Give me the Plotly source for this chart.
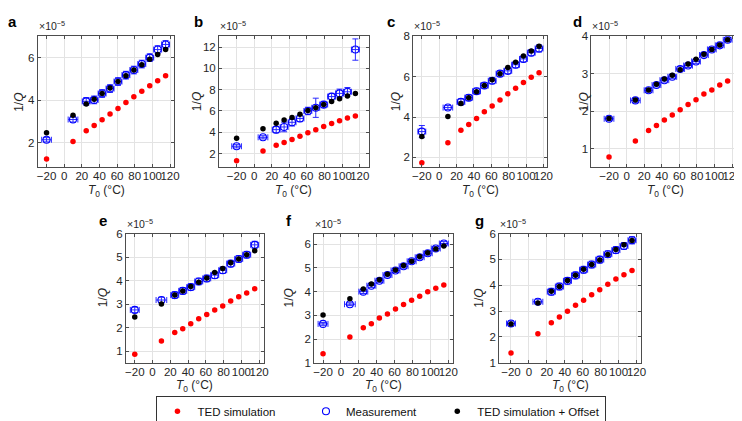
import plotly.graph_objects as go

W, H = 742, 421

# Temperatures (°C)
T = [-20, 10, 25, 34, 43, 52, 61, 70, 79, 88, 97, 106, 115]

# ---------------- data (1/Q in units of 1e-5) ----------------
a_ted = [1.25, 2.07, 2.57, 2.82, 3.09, 3.36, 3.62, 3.90, 4.17, 4.43, 4.68, 4.92, 5.15]
a_meas = [2.15, 3.10, 3.95, 4.02, 4.32, 4.55, 4.88, 5.18, 5.42, 5.70, 6.00, 6.38, 6.62]
a_off = [2.48, 3.30, 3.83, 4.05, 4.32, 4.58, 4.88, 5.15, 5.42, 5.67, 5.93, 6.15, 6.38]
a_ex = [5.5, 5.5, 4.5, 4.5, 4.5, 4.5, 4.5, 4.5, 4.5, 4.5, 4.5, 4.5, 4.5]
a_ey = [0.1, 0.12, 0.18, 0.18, 0.18, 0.18, 0.18, 0.18, 0.18, 0.18, 0.18, 0.18, 0.18]

b_ted = [1.34, 2.24, 2.78, 3.05, 3.32, 3.62, 3.95, 4.25, 4.55, 4.82, 5.09, 5.33, 5.54]
b_meas = [2.69, 3.53, 4.25, 4.50, 4.94, 5.30, 6.00, 6.30, 6.60, 7.35, 7.65, 7.80, 11.76]
b_off = [3.44, 4.34, 4.85, 5.15, 5.40, 5.70, 6.05, 6.30, 6.60, 6.90, 7.14, 7.40, 7.64]
b_ex = [5.5, 5.5, 4.5, 4.5, 4.5, 4.5, 4.5, 4.5, 4.5, 4.5, 4.5, 4.5, 4.5]
b_ey = [0.15, 0.15, 0.3, 0.45, 0.35, 0.3, 0.35, 0.9, 0.3, 0.3, 0.4, 0.4, 1.0]

c_ted = [1.74, 2.73, 3.35, 3.63, 3.93, 4.26, 4.55, 4.85, 5.15, 5.43, 5.71, 5.97, 6.20]
c_meas = [3.28, 4.47, 4.75, 4.96, 5.28, 5.56, 5.80, 6.15, 6.29, 6.59, 6.88, 7.19, 7.40]
c_off = [3.04, 4.03, 4.67, 4.96, 5.25, 5.56, 5.85, 6.15, 6.46, 6.72, 7.02, 7.27, 7.51]
c_ex = [4.5, 5.5, 4.5, 4.5, 4.5, 4.5, 4.5, 4.5, 4.5, 4.5, 4.5, 4.5, 4.5]
c_ey = [0.3, 0.1, 0.15, 0.15, 0.15, 0.15, 0.15, 0.15, 0.15, 0.15, 0.15, 0.15, 0.18]

d_ted = [0.78, 1.21, 1.49, 1.62, 1.77, 1.90, 2.04, 2.18, 2.31, 2.46, 2.57, 2.70, 2.81]
d_meas = [1.80, 2.29, 2.56, 2.70, 2.83, 2.92, 3.13, 3.22, 3.33, 3.50, 3.65, 3.76, 3.91]
d_off = [1.81, 2.30, 2.57, 2.72, 2.86, 2.96, 3.11, 3.26, 3.39, 3.52, 3.65, 3.77, 3.91]
d_ex = [5.5, 5.5, 5.0, 5.0, 5.0, 5.0, 5.0, 5.0, 5.0, 5.0, 5.0, 5.0, 5.0]
d_ey = [0.05, 0.05, 0.05, 0.05, 0.05, 0.05, 0.06, 0.05, 0.05, 0.05, 0.05, 0.05, 0.05]

e_ted = [0.86, 1.43, 1.79, 1.95, 2.16, 2.37, 2.55, 2.75, 2.92, 3.13, 3.31, 3.47, 3.65]
e_meas = [2.75, 3.17, 3.38, 3.56, 3.72, 3.96, 4.09, 4.23, 4.44, 4.72, 4.92, 5.10, 5.52]
e_off = [2.45, 3.00, 3.38, 3.56, 3.75, 3.93, 4.11, 4.34, 4.51, 4.76, 4.92, 5.10, 5.27]
e_ex = [5.0, 6.0, 4.5, 4.5, 4.5, 4.5, 4.5, 4.5, 4.5, 4.5, 4.5, 4.5, 4.5]
e_ey = [0.12, 0.12, 0.14, 0.14, 0.14, 0.14, 0.14, 0.14, 0.14, 0.14, 0.14, 0.14, 0.15]

f_ted = [1.38, 2.09, 2.48, 2.65, 2.89, 3.06, 3.27, 3.46, 3.64, 3.81, 4.00, 4.14, 4.28]
f_meas = [2.64, 3.47, 4.00, 4.25, 4.46, 4.70, 4.89, 5.07, 5.28, 5.45, 5.62, 5.82, 6.03]
f_off = [3.02, 3.70, 4.11, 4.32, 4.50, 4.73, 4.91, 5.10, 5.28, 5.48, 5.64, 5.80, 5.93]
f_ex = [5.5, 6.0, 5.0, 5.0, 5.0, 5.0, 5.0, 5.0, 5.0, 5.0, 5.0, 5.0, 5.0]
f_ey = [0.06, 0.06, 0.08, 0.08, 0.08, 0.08, 0.08, 0.08, 0.08, 0.08, 0.08, 0.08, 0.08]

g_ted = [1.38, 2.12, 2.55, 2.77, 2.99, 3.23, 3.42, 3.63, 3.83, 4.04, 4.24, 4.41, 4.57]
g_meas = [2.52, 3.36, 3.75, 3.95, 4.17, 4.38, 4.60, 4.80, 4.99, 5.20, 5.36, 5.52, 5.74]
g_off = [2.50, 3.31, 3.77, 3.95, 4.18, 4.39, 4.62, 4.80, 4.98, 5.19, 5.38, 5.57, 5.73]
g_ex = [5.0, 5.5, 4.5, 4.5, 4.5, 4.5, 4.5, 4.5, 4.5, 4.5, 4.5, 4.5, 4.5]
g_ey = [0.1, 0.1, 0.13, 0.13, 0.13, 0.13, 0.13, 0.13, 0.13, 0.13, 0.13, 0.13, 0.14]

panel_names = ["a", "b", "c", "d", "e", "f", "g"]
series_names = ["TED simulation", "Measurement", "TED simulation + Offset"]
x_ticks = [-20, 0, 20, 40, 60, 80, 100, 120]
y_ticks = {
    "a": [2, 4, 6],
    "b": [2, 4, 6, 8, 10, 12],
    "c": [2, 4, 6, 8],
    "d": [1, 2, 3, 4],
    "e": [1, 2, 3, 4, 5, 6],
    "f": [1, 2, 3, 4, 5, 6],
    "g": [1, 2, 3, 4, 5, 6],
}
x_ranges = {"a": [-30, 125], "b": [-40, 130], "c": [-30, 124], "d": [-40, 128],
            "e": [-30, 125], "f": [-30, 125], "g": [-33, 125]}
y_ranges = {"a": [0.85, 7], "b": [0.7, 13], "c": [1.5, 8], "d": [0.5, 4],
            "e": [0.5, 6], "f": [1, 6.45], "g": [1, 6]}

data = {
    "a": (a_ted, a_meas, a_off, a_ex, a_ey),
    "b": (b_ted, b_meas, b_off, b_ex, b_ey),
    "c": (c_ted, c_meas, c_off, c_ex, c_ey),
    "d": (d_ted, d_meas, d_off, d_ex, d_ey),
    "e": (e_ted, e_meas, e_off, e_ex, e_ey),
    "f": (f_ted, f_meas, f_off, f_ex, f_ey),
    "g": (g_ted, g_meas, g_off, g_ex, g_ey),
}

# ---------------- layout geometry (pixels) ----------------
boxes = {  # left, right, top, bottom
    "a": (29, 167, 23, 158),
    "b": (212, 363, 23, 158),
    "c": (408, 543, 23, 158),
    "d": (588, 737, 23, 158),
    "e": (118, 257, 226, 359),
    "f": (308, 448, 226, 359),
    "g": (495, 638, 226, 359),
}
label_pos = {"a": (4, 8), "b": (191, 8), "c": (386, 8), "d": (574, 8),
             "e": (95, 213), "f": (283, 213), "g": (475, 213)}
ytitle_x = {"a": 10, "b": 190, "c": 391, "d": 580, "e": 95, "f": 283, "g": 475}
legend_pad = {"TED simulation": 8, "Measurement": 5, "TED simulation + Offset": 0}


def fx(px):
    return px / W


def fy(py):
    return 1 - py / H


FONT = "Liberation Sans, Arial, Helvetica, sans-serif"
TXT = "#262626"
AX = "#4d4d4d"
NB = "\u00a0"

fig = go.Figure()
layout = dict(
    width=W, height=H,
    margin=dict(l=0, r=0, t=0, b=0),
    paper_bgcolor="white", plot_bgcolor="white",
    font=dict(family=FONT, size=11.5, color=TXT),
    showlegend=True,
    legend=dict(
        orientation="h", x=fx(376), xanchor="center", y=fy(393), yanchor="top",
        bordercolor="#333333", borderwidth=1, bgcolor="white",
        font=dict(size=11.5, color="#111111"),
        itemwidth=30, tracegroupgap=0,
    ),
)
annotations = []

for i, p in enumerate(panel_names):
    k = "" if i == 0 else str(i + 1)
    xa, ya = "x" + k, "y" + k
    l, r, t, b = boxes[p]
    ted, meas, off, ex, ey = data[p]
    first = i == 0
    nm = [s + NB * legend_pad[s] for s in series_names]

    fig.add_trace(go.Scatter(
        x=T, y=ted, xaxis=xa, yaxis=ya, mode="markers",
        marker=dict(color="#ff0000", size=5.5, line=dict(width=0)),
        name=nm[0], showlegend=first, legendrank=1,
    ))
    fig.add_trace(go.Scatter(
        x=T, y=meas, xaxis=xa, yaxis=ya, mode="markers",
        marker=dict(symbol="circle-open", color="#0000ff", size=7, line=dict(width=1.1)),
        error_x=dict(type="data", array=ex, color="#2b2bff", thickness=1, width=3),
        error_y=dict(type="data", array=ey, color="#2b2bff", thickness=1, width=3),
        name=nm[1], showlegend=first, legendrank=2,
    ))
    fig.add_trace(go.Scatter(
        x=T, y=off, xaxis=xa, yaxis=ya, mode="markers",
        marker=dict(color="#000000", size=5.5, line=dict(width=0)),
        name=nm[2], showlegend=first, legendrank=3,
    ))

    common = dict(
        showgrid=True, gridcolor="#e3e3e3", gridwidth=1,
        showline=True, linecolor=AX, linewidth=1, mirror="ticks",
        ticks="inside", ticklen=3, tickcolor=AX, tickwidth=1,
        zeroline=False, tickfont=dict(size=11.5, color=TXT, family=FONT),
        fixedrange=True, tickangle=0,
    )
    layout["xaxis" + k] = dict(
        common, domain=[fx(l), fx(r)], range=x_ranges[p],
        tickmode="array", tickvals=x_ticks, anchor=ya, ticklabelstandoff=-2,
    )
    layout["yaxis" + k] = dict(
        common, domain=[fy(b), fy(t)], range=y_ranges[p],
        tickmode="array", tickvals=y_ticks[p], anchor=xa,
    )

    # panel letter
    lx, ly = label_pos[p]
    annotations.append(dict(
        text=p, x=fx(lx), y=fy(ly), xref="paper", yref="paper",
        showarrow=False, xanchor="center", yanchor="middle",
        font=dict(size=15, color="#000000", family=FONT, weight="bold"),
    ))
    # exponent label
    annotations.append(dict(
        text="×10<sup>−5</sup>", x=fx(l - 1), y=fy(t - 2), xref="paper", yref="paper",
        showarrow=False, xanchor="left", yanchor="bottom",
        font=dict(size=10.5, color=TXT, family=FONT),
    ))
    # y-axis title
    annotations.append(dict(
        text="1/<i>Q</i>", x=fx(ytitle_x[p]), y=fy((t + b) / 2), xref="paper", yref="paper",
        showarrow=False, textangle=-90, xanchor="center", yanchor="middle",
        font=dict(size=12, color=TXT, family=FONT),
    ))
    # x-axis title
    annotations.append(dict(
        text="<i>T</i><sub>0</sub> (°C)", x=fx((l + r) / 2), y=fy(b + 24),
        xref="paper", yref="paper",
        showarrow=False, xanchor="center", yanchor="middle",
        font=dict(size=12, color=TXT, family=FONT),
    ))

layout["annotations"] = annotations
fig.update_layout(**layout)
fig.write_html("out.html")
